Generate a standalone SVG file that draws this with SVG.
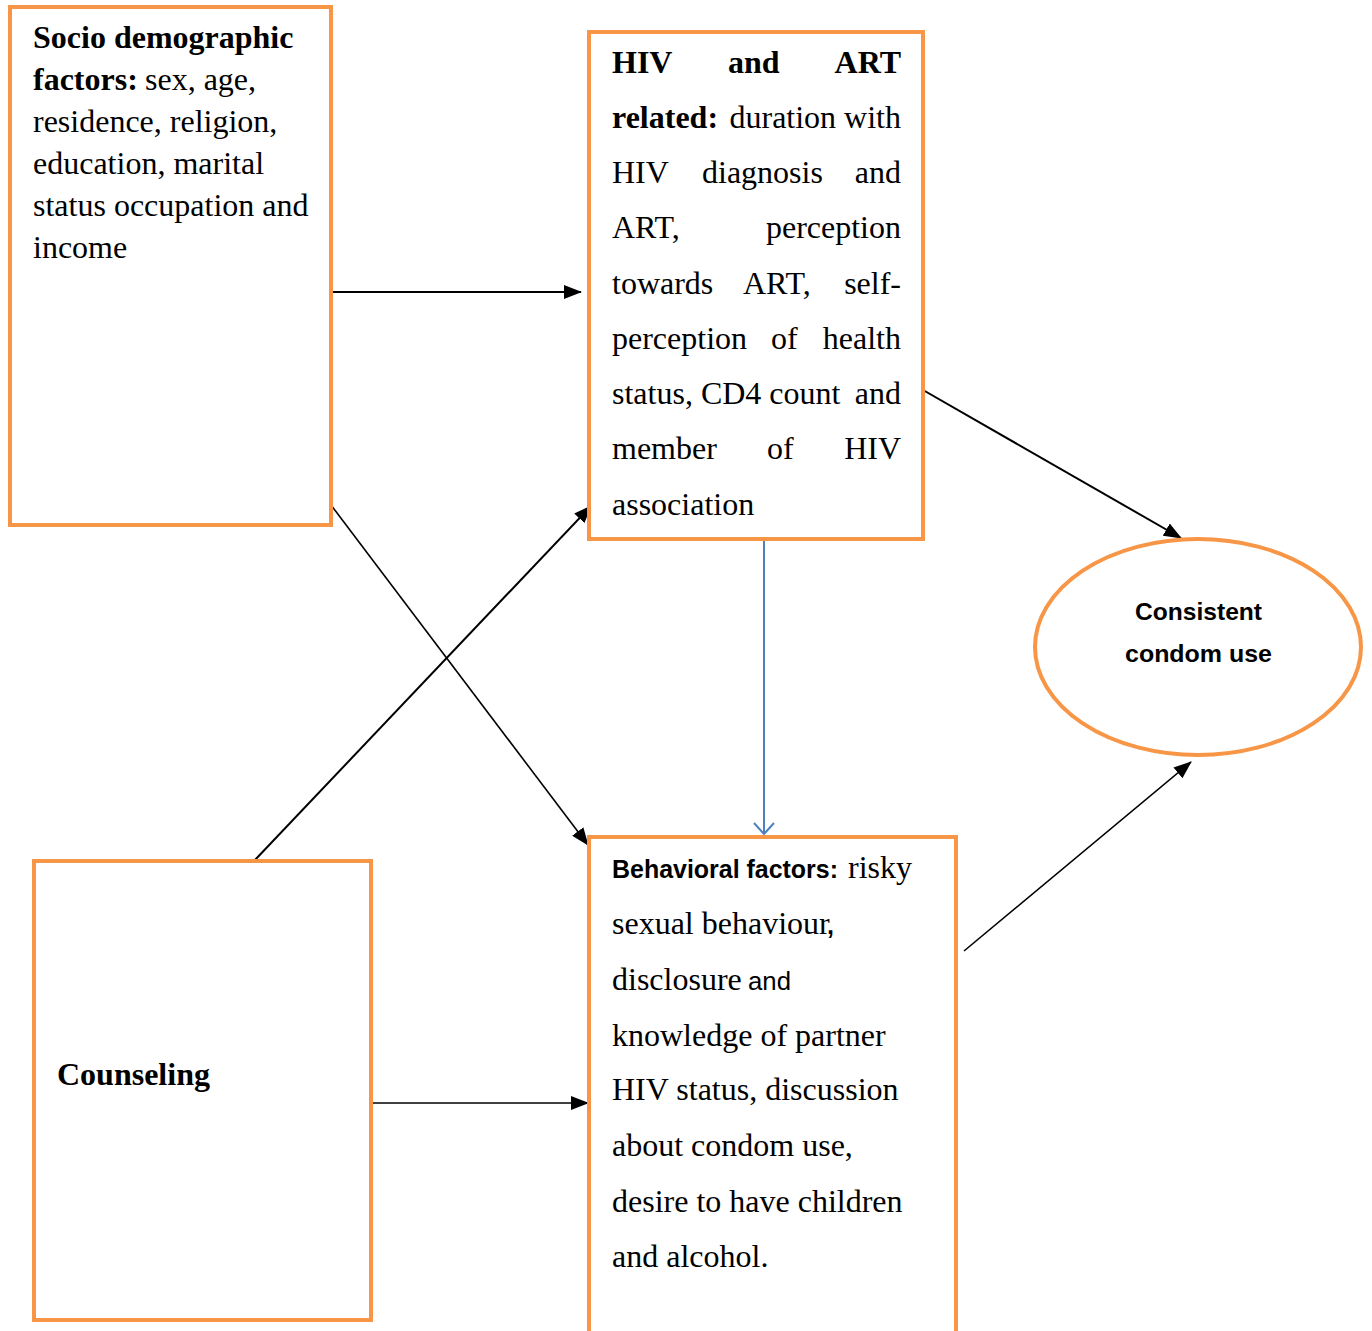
<svg xmlns="http://www.w3.org/2000/svg" width="1372" height="1331" viewBox="0 0 1372 1331">
<style>
.box{fill:#fff;stroke:#F79646;stroke-width:4}
.s{font-family:"Liberation Serif","Times New Roman",serif;font-size:32px;fill:#000}
.b{font-weight:bold}
.c{font-family:"Liberation Sans",Arial,sans-serif;font-weight:bold;fill:#000}
.e{text-anchor:end}
.ln{stroke:#000;fill:none}
</style>
<defs>
<marker id="ah" markerUnits="userSpaceOnUse" markerWidth="18" markerHeight="14" refX="17" refY="7" orient="auto">
<path d="M0,0 L18,7 L0,14 Z" fill="#000"/>
</marker>
<marker id="ob" markerUnits="userSpaceOnUse" markerWidth="24" markerHeight="24" refX="12" refY="12" orient="auto">
<path d="M1,2 L12,12 L1,22" fill="none" stroke="#4F81BD" stroke-width="2"/>
</marker>
</defs>
<rect width="1372" height="1331" fill="#fff"/>
<g id="connectors">
<line class="ln" x1="331" y1="292" x2="581" y2="292" stroke-width="2" marker-end="url(#ah)"/>
<line class="ln" x1="331" y1="505" x2="588" y2="845" stroke-width="1.6" marker-end="url(#ah)"/>
<line class="ln" x1="254" y1="861" x2="591" y2="506" stroke-width="2" marker-end="url(#ah)"/>
<line class="ln" x1="370" y1="1103" x2="588" y2="1103" stroke-width="1.6" marker-end="url(#ah)"/>
<line class="ln" x1="923" y1="390" x2="1181" y2="538" stroke-width="2" marker-end="url(#ah)"/>
<line class="ln" x1="964" y1="951" x2="1191" y2="762" stroke-width="1.6" marker-end="url(#ah)"/>
<line x1="764" y1="539" x2="764" y2="834" stroke="#4F81BD" stroke-width="2" marker-end="url(#ob)"/>
</g>
<g id="socio">
<rect class="box" x="10" y="7" width="321" height="518"/>
<text class="s b" x="33" y="48">Socio demographic</text>
<text class="s b" x="33" y="90">factors:</text>
<text class="s" x="145" y="90">sex, age,</text>
<text class="s" x="33" y="132">residence, religion,</text>
<text class="s" x="33" y="174">education, marital</text>
<text class="s" x="33" y="216">status occupation and</text>
<text class="s" x="33" y="258">income</text>
</g>
<g id="hiv">
<rect class="box" x="589" y="32" width="334" height="507"/>
<text class="s b" x="612" y="73">HIV</text>
<text class="s b" x="728" y="73">and</text>
<text class="s b e" x="901" y="73">ART</text>
<text class="s b" x="612" y="128">related:</text>
<text class="s e" x="901" y="128">duration with</text>
<text class="s" x="612" y="183">HIV</text>
<text class="s" x="702" y="183">diagnosis</text>
<text class="s e" x="901" y="183">and</text>
<text class="s" x="612" y="238">ART,</text>
<text class="s e" x="901" y="238">perception</text>
<text class="s" x="612" y="294">towards</text>
<text class="s" x="743" y="294">ART,</text>
<text class="s e" x="901" y="294">self-</text>
<text class="s" x="612" y="349">perception</text>
<text class="s" x="771" y="349">of</text>
<text class="s e" x="901" y="349">health</text>
<text class="s" x="612" y="404">status, CD4 count</text>
<text class="s e" x="901" y="404">and</text>
<text class="s" x="612" y="459">member</text>
<text class="s" x="767" y="459">of</text>
<text class="s e" x="901" y="459">HIV</text>
<text class="s" x="612" y="515">association</text>
</g>
<g id="condom">
<ellipse cx="1198" cy="647" rx="163" ry="108" fill="#fff" stroke="#F79646" stroke-width="4"/>
<text class="c" x="1135" y="620" font-size="24" textLength="127" lengthAdjust="spacingAndGlyphs">Consistent</text>
<text class="c" x="1125" y="662" font-size="24" textLength="147" lengthAdjust="spacingAndGlyphs">condom use</text>
</g>
<g id="counseling">
<rect class="box" x="34" y="861" width="337" height="459"/>
<text class="s b" x="57" y="1085">Counseling</text>
</g>
<g id="behavioral">
<rect class="box" x="589" y="837" width="367" height="500"/>
<text class="c" x="612" y="878" font-size="25" textLength="226" lengthAdjust="spacingAndGlyphs">Behavioral factors:</text>
<text class="s" x="848" y="878">risky</text>
<text class="s" x="612" y="934">sexual behaviour</text>
<text class="c" x="827" y="934" font-size="25">,</text>
<text class="s" x="612" y="990">disclosure</text>
<text class="c" x="748" y="990" font-size="25" style="font-weight:normal" textLength="43" lengthAdjust="spacingAndGlyphs">and</text>
<text class="s" x="612" y="1046">knowledge of partner</text>
<text class="s" x="612" y="1100">HIV status, discussion</text>
<text class="s" x="612" y="1156">about condom use,</text>
<text class="s" x="612" y="1212">desire to have children</text>
<text class="s" x="612" y="1267">and alcohol.</text>
</g>
</svg>
